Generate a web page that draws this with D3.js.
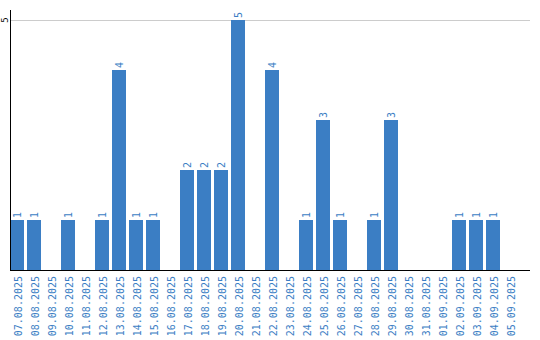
<!DOCTYPE html>
<html><head><meta charset="utf-8">
<script src="https://cdn.jsdelivr.net/npm/d3@7/dist/d3.min.js"></script>
<style>body{margin:0;background:#fff}svg{display:block}</style>
</head><body>
<svg id="c" width="540" height="340"></svg>
<script>
const categories = ["07.08.2025","08.08.2025","09.08.2025","10.08.2025","11.08.2025","12.08.2025","13.08.2025","14.08.2025","15.08.2025","16.08.2025","17.08.2025","18.08.2025","19.08.2025","20.08.2025","21.08.2025","22.08.2025","23.08.2025","24.08.2025","25.08.2025","26.08.2025","27.08.2025","28.08.2025","29.08.2025","30.08.2025","31.08.2025","01.09.2025","02.09.2025","03.09.2025","04.09.2025","05.09.2025"];
const values = [1,1,0,1,0,1,4,1,1,0,2,2,2,5,0,4,0,1,3,1,0,1,3,0,0,0,1,1,1,0];
const yTicks = [5];

const svg = d3.select("#c");
const blue = "#3b7ec4";
const font = "'DejaVu Sans Mono', monospace";
const x = d3.scaleBand().domain(categories).range([10, 517]).paddingInner(3/17).paddingOuter(0);
const y = d3.scaleLinear().domain([0, 5]).range([270, 20]);

// gridlines
svg.append("g").selectAll("line").data(yTicks).join("line")
  .attr("x1", 10).attr("x2", 530).attr("y1", d => y(d)+0.5).attr("y2", d => y(d)+0.5)
  .attr("stroke", "#cccccc").attr("stroke-width", 1);

// bars
svg.append("g").selectAll("rect").data(values.map((v,i)=>({c:categories[i],v}))).join("rect")
  .filter(d => d.v > 0)
  .attr("x", d => x(d.c)).attr("width", x.bandwidth())
  .attr("y", d => y(d.v)).attr("height", d => y(0) - y(d.v))
  .attr("fill", blue).attr("shape-rendering", "crispEdges");

// value labels
svg.append("g").selectAll("text").data(values.map((v,i)=>({c:categories[i],v})).filter(d=>d.v>0)).join("text")
  .attr("transform", d => `translate(${x(d.c)+x.bandwidth()/2},${y(d.v)-2}) rotate(-90)`)
  .attr("dy", "0.35em").attr("text-anchor", "start")
  .attr("font-family", font).attr("font-size", 10).attr("fill", blue)
  .text(d => d.v);

// axes lines
svg.append("line").attr("x1", 10.5).attr("x2", 10.5).attr("y1", 10).attr("y2", 271)
  .attr("stroke", "#000").attr("stroke-width", 1);
svg.append("line").attr("x1", 10).attr("x2", 530).attr("y1", 270.5).attr("y2", 270.5)
  .attr("stroke", "#000").attr("stroke-width", 1);

// y tick labels
svg.append("g").selectAll("text").data(yTicks).join("text")
  .attr("transform", d => `translate(5,${y(d)}) rotate(-90)`)
  .attr("dy", "0.35em").attr("text-anchor", "middle")
  .attr("font-family", font).attr("font-size", 9).attr("fill", "#000")
  .text(d => d);

// x labels
svg.append("g").selectAll("text").data(categories).join("text")
  .attr("transform", d => `translate(${x(d)+x.bandwidth()/2+1},276) rotate(-90)`)
  .attr("dy", "0.35em").attr("text-anchor", "end")
  .attr("font-family", font).attr("font-size", 10).attr("fill", blue)
  .text(d => d);
</script>
</body></html>
